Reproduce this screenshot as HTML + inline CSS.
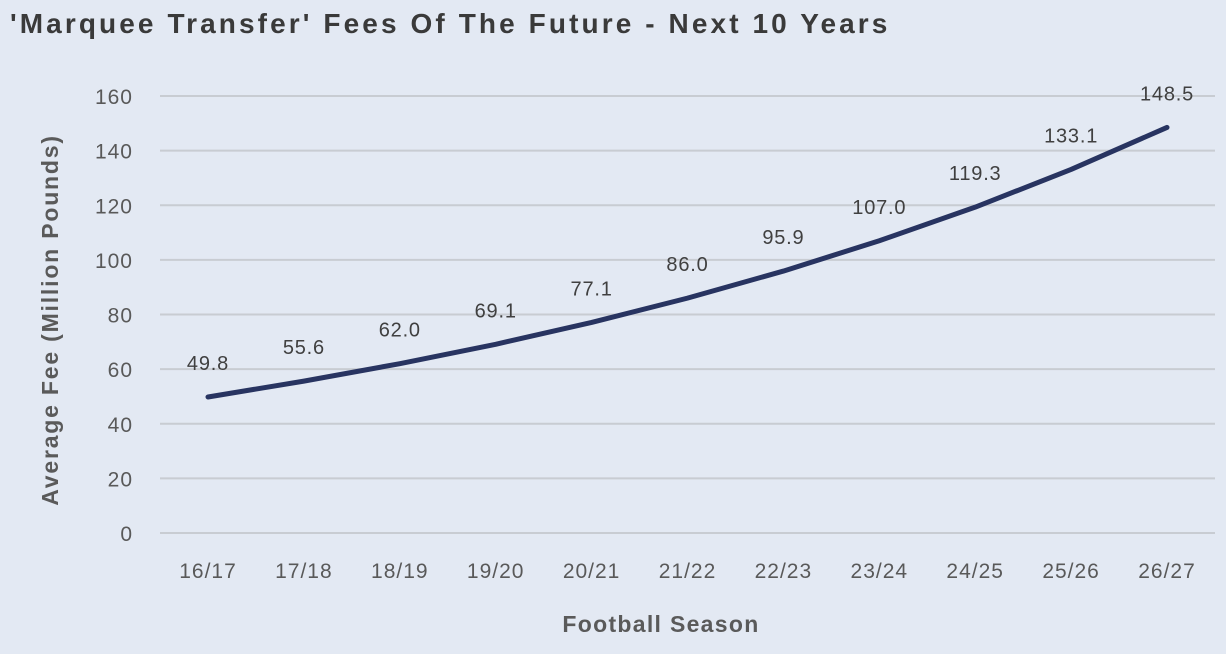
<!DOCTYPE html>
<html><head><meta charset="utf-8">
<style>
body{margin:0;background:#e3e9f3;}
svg{display:block;font-family:"Liberation Sans",sans-serif;}
</style></head>
<body>
<svg width="1226" height="654">
<rect x="0" y="0" width="1226" height="654" fill="#e3e9f3"/>
<text x="10" y="33" font-size="28" font-weight="bold" letter-spacing="3.1" fill="#3a3a3a">'Marquee Transfer' Fees Of The Future - Next 10 Years</text>
<g id="grid"></g>
<g id="yticks"></g>
<g id="xticks"></g>
<path id="line" fill="none" stroke="#283461" stroke-width="5" stroke-linejoin="round" stroke-linecap="round"/>
<g id="labels"></g>
<text transform="translate(58,320) rotate(-90)" text-anchor="middle" font-size="23" font-weight="bold" letter-spacing="1.8" fill="#5a5a5a">Average Fee (Million Pounds)</text>
<text x="661" y="632" text-anchor="middle" font-size="23" font-weight="bold" letter-spacing="1.3" fill="#5a5a5a">Football Season</text>
</svg>
<script>
const categories=["16/17","17/18","18/19","19/20","20/21","21/22","22/23","23/24","24/25","25/26","26/27"];
const values=[49.8,55.6,62.0,69.1,77.1,86.0,95.9,107.0,119.3,133.1,148.5];
const yTicks=[0,20,40,60,80,100,120,140,160];
const ns="http://www.w3.org/2000/svg";
const x0=208,xStep=95.9,yBase=533,yPer=437/160;
const xs=i=>x0+i*xStep, ys=v=>yBase-v*yPer;
function mk(t,a,p){const e=document.createElementNS(ns,t);for(const k in a)e.setAttribute(k,a[k]);p.appendChild(e);return e;}
const grid=document.getElementById('grid'),yt=document.getElementById('yticks'),xt=document.getElementById('xticks'),lb=document.getElementById('labels');
yTicks.forEach(v=>{
 const l=mk('line',{x1:160,x2:1215,y1:ys(v),y2:ys(v),stroke:'#c8ccd2','stroke-width':2},grid);
 
 
 const t=mk('text',{x:133,y:ys(v)+8,'text-anchor':'end','font-size':21,'letter-spacing':1,fill:'#595959'},yt);
 t.textContent=v;
 
 
});
categories.forEach((c,i)=>{
 const t=mk('text',{x:xs(i),y:578,'text-anchor':'middle','font-size':21,'letter-spacing':1,fill:'#595959'},xt);
 t.textContent=c;
 
 
});
let d='';
values.forEach((v,i)=>{d+=(i?'L':'M')+xs(i)+','+ys(v);
 const t=mk('text',{x:xs(i),y:ys(v)-27,'text-anchor':'middle','font-size':20,'letter-spacing':0.8,fill:'#404040'},lb);
 t.textContent=v.toFixed(1);
 
 
});
document.getElementById('line').setAttribute('d',d);
</script>
</body></html>
